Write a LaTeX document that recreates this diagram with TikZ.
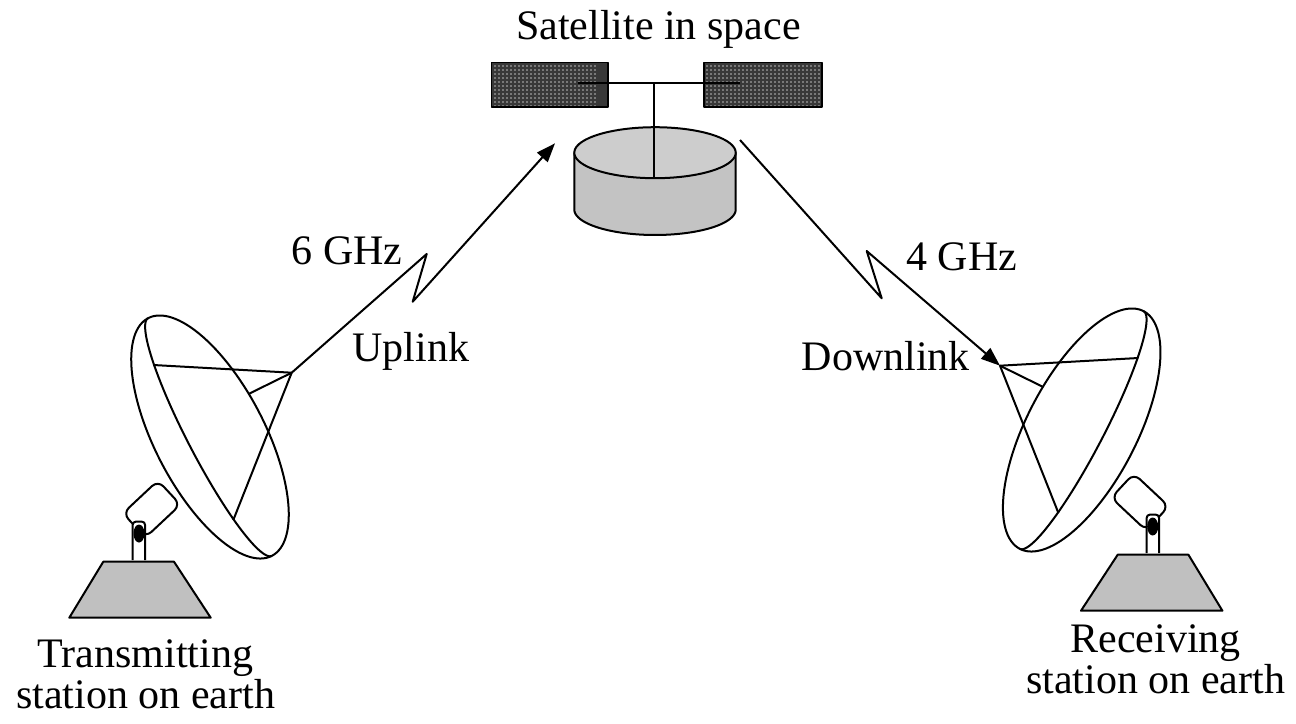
\documentclass[tikz,border=0pt]{standalone}
\usepackage{fontspec}
\setmainfont{Liberation Serif}
\usetikzlibrary{arrows.meta}
\definecolor{panelbg}{HTML}{383838}
\definecolor{paneldot}{HTML}{787878}
\definecolor{drumtop}{HTML}{CDCDCD}
\definecolor{drumside}{HTML}{C3C3C3}
\definecolor{basegray}{HTML}{C0C0C0}
% One dish antenna on its pedestal; #1 prefixes the name of its feed point.
\newcommand{\earthstation}[1]{%
  % mount head
  \draw[outline, fill=white, rounded corners=8pt]
    (122.95,513.3) -- (157.95,480.5) -- (180.45,504.7) -- (145.45,537.5) -- cycle;
  % post with pivot
  \draw[outline, fill=white, rounded corners=3pt]
    (132.7,560) -- (132.7,521.7) -- (145,521.7) -- (145,560);
  \fill (139,533.5) ellipse [x radius=5.5, y radius=9];
  % base
  \draw[outline, fill=basegray]
    (103.3,561.7) -- (174,561.7) -- (210.7,617.7) -- (69.3,617.7) -- cycle;
  % dish, in its own tilted frame
  \begin{scope}[shift={(210,437)}, x={(0.4617pt,-0.887pt)}, y={(-0.887pt,-0.4617pt)}]
    \draw[outline, fill=white] plot[domain=0:360, samples=120, variable=\t]
      ({134*cos(\t)},{55*sin(\t)}) -- cycle;
    \draw[outline] plot[domain=0:180, samples=60, variable=\t]
      ({134*cos(\t)},{22*sin(\t)});
  \end{scope}
  % feed struts
  \coordinate (#1focus) at (291.7,372.7);
  \draw[outline] (153.3,365) -- (#1focus) -- (233.3,520);
  \draw[outline] (#1focus) -- (248.5,394);
}
\begin{document}
\begin{tikzpicture}[x=1pt, y=-1pt, line join=round,
  outline/.style={draw=black, line width=2pt},
  txt/.style={font=\fontsize{42}{41}\selectfont, inner sep=0pt, anchor=base},
  link/.style={draw=black, line width=2pt, -{Triangle[length=19pt,width=14pt]}}
]
\useasboundingbox (0,0) rectangle (1296,723);

% ---- satellite: solar panels ----
\fill[panelbg] (491.7,62.7) rectangle (608,107);
\foreach \i in {0,...,25} \foreach \j in {0,...,10}
  \fill[paneldot] (494+4*\i,65+4*\j) rectangle ++(2,2);
\draw[line width=1.4pt] (491.7,62.7) rectangle (608,107);
\fill[panelbg] (704,62.7) rectangle (822,107);
\foreach \i in {0,...,28} \foreach \j in {0,...,10}
  \fill[paneldot] (706+4*\i,65+4*\j) rectangle ++(2,2);
\draw[line width=1.4pt] (704,62.7) rectangle (822,107);
\draw[outline] (578,83.3) -- (740,83.3);

% ---- satellite: body ----
\draw[outline, fill=drumside] (574.3,152.7) -- (574.3,209.5)
  -- plot[domain=180:0, samples=60, variable=\t] ({655+80.7*cos(\t)},{209.5+25.5*sin(\t)})
  -- (735.7,152.7) -- cycle;
\draw[outline, fill=drumtop] plot[domain=0:360, samples=100, variable=\t]
  ({655+80.7*cos(\t)},{152.7+25.5*sin(\t)}) -- cycle;
\draw[outline] (654,83.3) -- (654,178.2);

% ---- earth stations ----
\begin{scope}
  \earthstation{tx}
\end{scope}
\begin{scope}[shift={(1291.7,-7)}, xscale=-1]
  \earthstation{rx}
\end{scope}

% ---- links ----
\coordinate (upA) at (426.7,254);
\coordinate (upB) at (412.7,301.7);
\coordinate (upEnd) at (555,143.3);
\draw[link] (txfocus) -- (upA) -- (upB) -- (upEnd);
\coordinate (dnStart) at (740,140);
\coordinate (dnA) at (881.7,298.3);
\coordinate (dnB) at (866.7,251);
\draw[link] (dnStart) -- (dnA) -- (dnB) -- (rxfocus);

% ---- labels ----
\node[txt] (satlabel) at (658.3,39.3) {Satellite in space};
\node[txt] (uphz) at (347.2,264) {6 GHz};
\node[txt] (uplabel) at (411,361.7) {Uplink};
\node[txt] (dnhz) at (961.7,270) {4 GHz};
\node[txt] (dnlabel) at (885.8,370) {Downlink};
\node[txt, align=center] (txlabel) at (145.5,708) {Transmitting\\station on earth};
\node[txt, align=center] (rxlabel) at (1155.7,693.3) {Receiving\\station on earth};
\end{tikzpicture}
\end{document}
